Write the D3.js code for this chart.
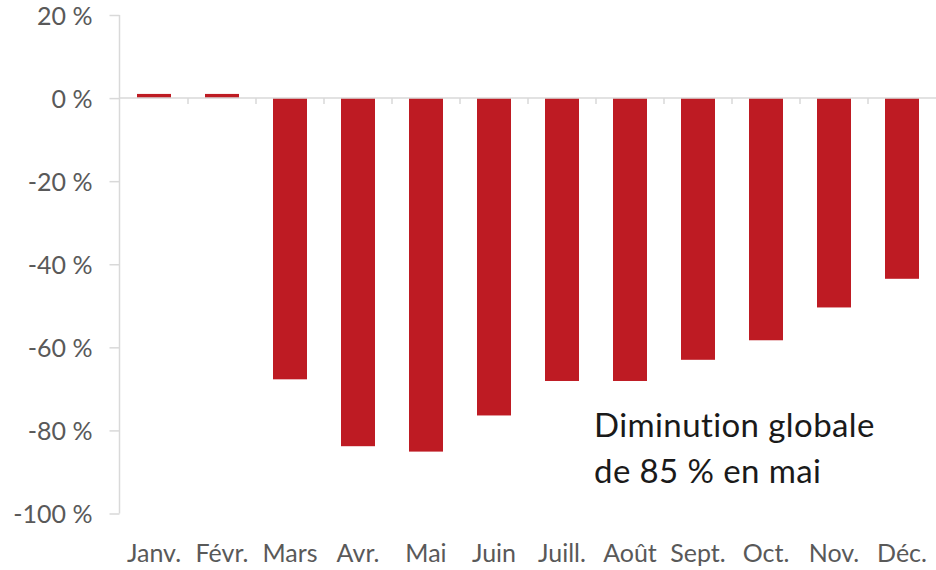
<!DOCTYPE html>
<html>
<head>
<meta charset="utf-8">
<script src="https://cdn.jsdelivr.net/npm/d3@7"></script>
<style>
  body { margin: 0; background: #fff; }
  text { font-family: Lato, "Open Sans", sans-serif; font-variant-ligatures: none; }
</style>
</head>
<body>
<div id="chart"></div>
<script>
// month labels and yearly change (%)
var months = ["Janv.", "Févr.", "Mars", "Avr.", "Mai", "Juin", "Juill.", "Août", "Sept.", "Oct.", "Nov.", "Déc."];
var changes = [1, 1, -67.7, -83.8, -85.1, -76.4, -68.1, -68.1, -63.0, -58.3, -50.4, -43.5];
var yTicks = [20, 0, -20, -40, -60, -80, -100];
var noteLines = ["Diminution globale", "de 85 % en mai"];

var width = 936, height = 570;

var svg = d3.select("#chart")
    .append("svg")
    .attr("width", width)
    .attr("height", height);

var xScale = d3.scaleBand()
    .domain(months)
    .range([120, 936])
    .paddingInner(0.5)
    .paddingOuter(0.25);

var yScale = d3.scaleLinear()
    .domain([20, -100])
    .range([15, 513.5]);

// y axis
var yAxis = svg.append("g")
    .attr("transform", "translate(119.5,0)")
    .call(d3.axisLeft(yScale)
        .tickValues(yTicks)
        .tickSize(10)
        .tickPadding(17)
        .tickFormat(function (d) { return d + " %"; }));
yAxis.selectAll("path").attr("stroke", "#d9d9d9").attr("stroke-width", 1.5)
    .attr("d", "M0," + yScale(20) + "V" + yScale(-100));
yAxis.selectAll("line").attr("stroke", "#d9d9d9").attr("stroke-width", 1.5);
yAxis.selectAll("text")
    .attr("fill", "#595959")
    .style("font-size", "25px")
    .attr("dy", "0.36em");

// bars
svg.selectAll("rect.bar")
    .data(changes)
    .enter()
    .append("rect")
    .attr("class", "bar")
    .attr("x", function (d, i) { return xScale(months[i]); })
    .attr("y", function (d) { return yScale(Math.max(0, d)); })
    .attr("width", xScale.bandwidth())
    .attr("height", function (d) { return Math.abs(yScale(d) - yScale(0)); })
    .attr("fill", "#be1b23");

// x axis on the zero line, ticks between categories
var step = xScale.step();
var xAxis = svg.append("g");
xAxis.append("line")
    .attr("x1", 119.5).attr("x2", 936)
    .attr("y1", yScale(0)).attr("y2", yScale(0))
    .attr("stroke", "#d9d9d9").attr("stroke-width", 1.5);
xAxis.selectAll("line.tick")
    .data(months.slice(1))
    .enter()
    .append("line")
    .attr("class", "tick")
    .attr("x1", function (d) { return xScale(d) - step * 0.25; })
    .attr("x2", function (d) { return xScale(d) - step * 0.25; })
    .attr("y1", yScale(0))
    .attr("y2", yScale(0) + 6)
    .attr("stroke", "#d9d9d9").attr("stroke-width", 1.5);

// month labels at the bottom
svg.selectAll("text.month")
    .data(months)
    .enter()
    .append("text")
    .attr("class", "month")
    .attr("x", function (d) { return xScale(d) + xScale.bandwidth() / 2; })
    .attr("y", 562)
    .attr("text-anchor", "middle")
    .attr("fill", "#595959")
    .style("font-size", "25px")
    .text(function (d) { return d; });

// annotation
svg.selectAll("text.note")
    .data(noteLines)
    .enter()
    .append("text")
    .attr("class", "note")
    .attr("x", 594)
    .attr("y", function (d, i) { return 437 + i * 46; })
    .attr("fill", "#1a1a1a")
    .style("font-size", "33px")
    .style("letter-spacing", "0.4px")
    .text(function (d) { return d; });
</script>
</body>
</html>
